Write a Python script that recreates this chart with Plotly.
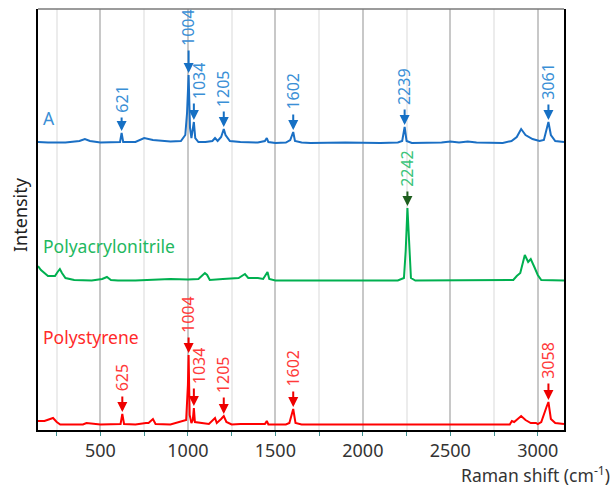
import plotly.graph_objects as go

# ---------------- data ----------------
a_x = [143, 200, 300, 380, 411, 440, 500, 600, 612, 621, 630, 700, 730, 750, 800, 900, 960,
       985, 995, 1004, 1012, 1020, 1034, 1042, 1060, 1100, 1140, 1155, 1170, 1190, 1205, 1215,
       1240, 1300, 1400, 1440, 1451, 1460, 1500, 1560, 1585, 1602, 1612, 1650, 1700, 1900,
       2100, 2200, 2225, 2239, 2250, 2280, 2450, 2500, 2550, 2600, 2650, 2720, 2800, 2850,
       2880, 2905, 2930, 2970, 3010, 3035, 3050, 3061, 3075, 3100, 3150]
a_y = [1, 0.5, 0.5, 2, 4, 2, 0.5, 0.5, 1, 10, 1, 1, 3, 5, 3, 1.5, 2,
       8, 30, 68, 15, 5, 21, 5, 1, 1, 2, 5, 2, 6, 14, 8,
       2, 1, 0.5, 2, 5, 1, 0, 0.5, 3, 11, 2, 0.5, 0, 0.5,
       0, 0.5, 2, 16, 2, 0, 0.5, 1.5, 0.5, 1.5, 0.5, 0.5, 0, 2,
       6, 14, 8, 4, 2, 3, 12, 21, 8, 2, 1]

pan_x = [143, 160, 200, 240, 255, 268, 280, 300, 350, 450, 510, 537, 560, 600, 700, 800, 900,
         1000, 1060, 1085, 1097, 1110, 1125, 1200, 1290, 1326, 1345, 1400, 1430, 1455, 1465,
         1500, 1800, 2200, 2235, 2245, 2255, 2265, 2275, 2300, 2600, 2860, 2880, 2900, 2926,
         2945, 2960, 2975, 2983, 3000, 3020, 3150]
pan_y = [15, 11, 5, 5, 9, 12, 8, 3, 1, 0.5, 2, 4, 1, 0.5, 0.5, 1, 2,
         1.5, 2, 6, 8, 6, 1, 2, 3, 7, 3, 3, 2, 9, 2,
         0.5, 0.5, 0.5, 3, 30, 73, 30, 3, 0.5, 0.5, 1, 5, 8, 26,
         19, 22, 15, 13, 6, 1, 0.5]

ps_x = [143, 180, 229, 250, 270, 400, 420, 500, 615, 625, 635, 700, 760, 775, 800, 815, 900,
        990, 1000, 1004, 1010, 1020, 1028, 1034, 1040, 1080, 1120, 1155, 1165, 1190, 1205,
        1220, 1250, 1300, 1400, 1440, 1451, 1460, 1560, 1580, 1602, 1615, 1650, 2840, 2852,
        2865, 2905, 2930, 2960, 2990, 3000, 3020, 3050, 3061, 3075, 3100, 3150]
ps_y = [4, 4, 7, 3, 0.5, 0.5, 2, 0.5, 1, 11, 1, 0.5, 2, 2, 6, 1, 0.5,
        5, 40, 70, 10, 2, 5, 17, 3, 2, 1, 7, 2, 6, 9,
        3, 0.5, 1, 0.5, 1, 4, 0.5, 0.5, 2, 16, 2, 0.5, 0.5, 4,
        3, 9, 5, 2, 2, 1, 3, 18, 23, 6, 2, 1]

series_names = ["A", "Polyacrylonitrile", "Polystyrene"]
a_peaks = [621, 1004, 1034, 1205, 1602, 2239, 3061]
pan_peaks = [2242]
ps_peaks = [625, 1004, 1034, 1205, 1602, 3058]

tick_vals = [500, 1000, 1500, 2000, 2500, 3000]

# ---------------- layout constants ----------------
offsets = {"A": 287, "Polyacrylonitrile": 149, "Polystyrene": 5}
FONT = "Noto Sans"

fig = go.Figure()

specs = [
    ("A", a_x, a_y, "#1a6fc4"),
    ("Polyacrylonitrile", pan_x, pan_y, "#00b050"),
    ("Polystyrene", ps_x, ps_y, "#ff0000"),
]
for name, xs, ys, lc in specs:
    off = offsets[name]
    fig.add_trace(go.Scatter(x=xs, y=[v + off for v in ys], mode="lines",
                             line=dict(color=lc, width=2), name=name,
                             showlegend=False, hoverinfo="skip"))

def interp(xs, ys, x):
    for i in range(len(xs) - 1):
        if xs[i] <= x <= xs[i + 1]:
            t = (x - xs[i]) / (xs[i + 1] - xs[i])
            return ys[i] + t * (ys[i + 1] - ys[i])
    return ys[-1]

# arrow lengths (px), arrow x positions and label x shifts (px)
arrow_len = {
    "A": [15, 24, 18, 17, 17, 17, 17],
    "Polyacrylonitrile": [16],
    "Polystyrene": [17, 17, 19, 18, 17, 18],
}
arrow_x = {
    "A": a_peaks,
    "Polyacrylonitrile": [2255],
    "Polystyrene": [625, 1004, 1034, 1205, 1602, 3061],
}
label_shift = {
    "A": [0, 0, 6, 0, 0, 0, 0],
    "Polyacrylonitrile": [0],
    "Polystyrene": [0, 0, 6, 0, 0, 0],
}
ann_sets = [
    ("A", a_x, a_y, a_peaks, "#3a8fd6", "#1670c4"),
    ("Polyacrylonitrile", pan_x, pan_y, pan_peaks, "#3cc47a", "#1e5e1e"),
    ("Polystyrene", ps_x, ps_y, ps_peaks, "#ff3a3a", "#ee0000"),
]
for name, xs, ys, labs, tc, ac in ann_sets:
    off = offsets[name]
    for lab, px, alen, sh in zip(labs, arrow_x[name], arrow_len[name], label_shift[name]):
        top = interp(xs, ys, px) + off
        txt = str(lab)
        tlen = 9.3 * len(txt)
        fig.add_annotation(x=px, y=top, xref="x", yref="y", text="", showarrow=True,
                           ax=0, ay=-(alen + 2), standoff=2,
                           arrowhead=2, arrowsize=1, arrowwidth=2, arrowcolor=ac)
        fig.add_annotation(x=px, y=top, xref="x", yref="y", text=txt, textangle=-90,
                           showarrow=False, xshift=sh, yshift=alen + 2 + tlen / 2 + 3,
                           font=dict(family=FONT, size=16, color=tc))

# series labels
label_pos = {"A": 118, "Polyacrylonitrile": 246, "Polystyrene": 337}
label_col = {"A": "#3a8fd6", "Polyacrylonitrile": "#22b860", "Polystyrene": "#ff2a2a"}
for name in series_names:
    fig.add_annotation(x=(41 - 38) / 526, y=(430 - label_pos[name]) / 421, xref="paper", yref="paper",
                       text=name, showarrow=False, xanchor="left", yanchor="middle",
                       font=dict(family=FONT, size=17.5, color=label_col[name]))

fig.add_annotation(x=(612 - 38) / 526, y=(430 - 475) / 421, xref="paper", yref="paper",
                   text="Raman shift (cm<sup>-1</sup>)", showarrow=False, xanchor="right",
                   yanchor="middle", font=dict(family=FONT, size=17.5, color="#333"))
fig.add_annotation(x=(20 - 38) / 526, y=(430 - 215) / 421, xref="paper", yref="paper",
                   text="Intensity", showarrow=False, textangle=-90, xanchor="center",
                   yanchor="middle", font=dict(family=FONT, size=18, color="#222"))

fig.add_shape(type="line", xref="paper", yref="paper", x0=0, x1=1, y0=1, y1=1,
              line=dict(color="#7a7a7a", width=1.5))

fig.update_layout(
    width=615, height=488,
    margin=dict(l=38, r=51, t=9, b=58),
    plot_bgcolor="white", paper_bgcolor="white",
    font=dict(family=FONT, size=16, color="#333"),
    xaxis=dict(range=[143, 3150], tickvals=tick_vals, ticktext=[str(v) for v in tick_vals],
               showgrid=True, gridcolor="#c8c8c8", gridwidth=2,
               ticks="outside", ticklen=4, tickcolor="#3f8f8f", tickwidth=1,
               showline=True, linecolor="black", linewidth=1.5, zeroline=False,
               tickfont=dict(family=FONT, size=18, color="#333"),
               minor=dict(dtick=250, tick0=0, showgrid=True, gridcolor="#ececec", gridwidth=2,
                          ticks="outside", ticklen=4, tickcolor="#3f8f8f")),
    yaxis=dict(range=[0, 421], showticklabels=False, showgrid=False, zeroline=False,
               showline=True, linecolor="black", linewidth=1.5, mirror=True, ticks=""),
)

fig.write_html("out.html", config={"displayModeBar": False},
               post_script="document.body.style.margin='0';document.body.style.overflow='hidden';")
